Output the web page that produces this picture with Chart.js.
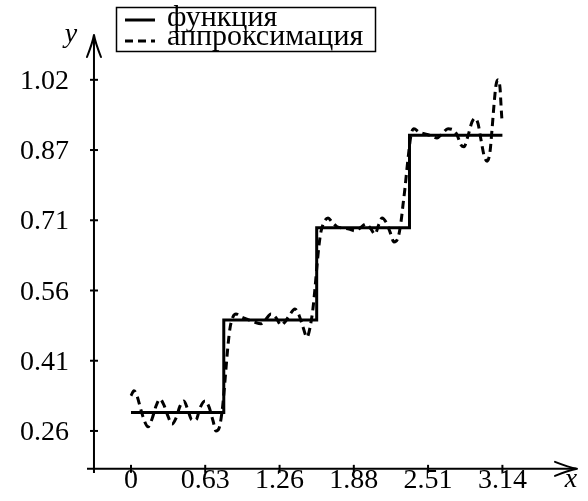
<!DOCTYPE html>
<html><head><meta charset="utf-8">
<script src="https://cdn.jsdelivr.net/npm/chart.js@4/dist/chart.umd.min.js"></script>
<style>html,body{margin:0;padding:0;background:#fff;} canvas{display:block;}</style>
</head><body>
<canvas id="c" width="588" height="501"></canvas>
<script>
// ---- data ----
const funcLabel = 'функция';
const approxLabel = 'аппроксимация';
const funcX = [0, 0.785, 0.785, 1.571, 1.571, 2.356, 2.356, 3.142];
const funcY = [0.3, 0.3, 0.5, 0.5, 0.7, 0.7, 0.9, 0.9];
const approxX = [0, 0.025, 0.051, 0.085, 0.118, 0.144, 0.178, 0.212, 0.245, 0.279, 0.313, 0.347, 0.381, 0.415, 0.448, 0.482, 0.516, 0.550, 0.584, 0.626, 0.660, 0.694, 0.719, 0.745, 0.770, 0.787, 0.804, 0.821, 0.838, 0.863, 0.888, 0.931, 0.981, 1.041, 1.100, 1.142, 1.184, 1.227, 1.269, 1.303, 1.337, 1.387, 1.421, 1.455, 1.489, 1.514, 1.540, 1.557, 1.574, 1.591, 1.607, 1.633, 1.667, 1.701, 1.743, 1.794, 1.844, 1.895, 1.937, 1.988, 2.030, 2.064, 2.098, 2.124, 2.157, 2.191, 2.225, 2.259, 2.284, 2.301, 2.318, 2.335, 2.352, 2.369, 2.394, 2.437, 2.487, 2.538, 2.589, 2.631, 2.682, 2.724, 2.758, 2.792, 2.817, 2.851, 2.885, 2.910, 2.936, 2.961, 2.986, 3.012, 3.037, 3.054, 3.071, 3.088, 3.105, 3.122, 3.130, 3.139];
const approxY = [0.336, 0.347, 0.336, 0.305, 0.279, 0.269, 0.286, 0.314, 0.329, 0.316, 0.292, 0.275, 0.288, 0.314, 0.325, 0.305, 0.284, 0.284, 0.310, 0.325, 0.312, 0.282, 0.260, 0.266, 0.301, 0.344, 0.396, 0.446, 0.483, 0.507, 0.513, 0.507, 0.502, 0.496, 0.492, 0.502, 0.513, 0.505, 0.489, 0.496, 0.509, 0.524, 0.511, 0.485, 0.463, 0.483, 0.526, 0.570, 0.619, 0.663, 0.691, 0.712, 0.721, 0.712, 0.702, 0.699, 0.697, 0.693, 0.699, 0.708, 0.697, 0.686, 0.708, 0.721, 0.712, 0.691, 0.669, 0.678, 0.712, 0.749, 0.786, 0.829, 0.868, 0.901, 0.914, 0.907, 0.903, 0.899, 0.894, 0.903, 0.914, 0.912, 0.901, 0.879, 0.875, 0.899, 0.929, 0.937, 0.925, 0.890, 0.857, 0.844, 0.864, 0.912, 0.966, 1.009, 1.020, 1.002, 0.966, 0.929];
const xTickValues = [0, 0.628, 1.257, 1.885, 2.513, 3.142];
const xTickLabels = ['0', '0.63', '1.26', '1.88', '2.51', '3.14'];
const yTickValues = [0.26, 0.412, 0.564, 0.716, 0.868, 1.02];
const yTickLabels = ['0.26', '0.41', '0.56', '0.71', '0.87', '1.02'];
const xRange = [-0.372, 3.773];
const yRange = [0.169, 1.117];
const xAxisAtY = 0.178;
const yAxisAtX = -0.313;
const xTitle = 'x';
const yTitle = 'y';

const FONT = '"Liberation Serif", "DejaVu Serif", serif';

function drawArrow(ctx, tx, ty, ang) {
  ctx.save();
  ctx.translate(tx, ty);
  ctx.rotate(ang);
  ctx.lineWidth = 2;
  ctx.lineCap = 'round';
  ctx.lineJoin = 'round';
  ctx.beginPath();
  ctx.moveTo(-22, -7);
  ctx.quadraticCurveTo(-8, -1.5, 0, 0);
  ctx.quadraticCurveTo(-8, 1.5, -22, 7);
  ctx.stroke();
  ctx.restore();
}

const texAxes = {
  id: 'texAxes',
  beforeDatasetsDraw(chart) {
    const ctx = chart.ctx;
    const xs = chart.scales.x, ys = chart.scales.y;
    const ax = xs.getPixelForValue(yAxisAtX);
    const ay = ys.getPixelForValue(xAxisAtY);
    const x0 = xs.getPixelForValue(xRange[0]), x1 = xs.getPixelForValue(xRange[1]);
    const y0 = ys.getPixelForValue(yRange[0]), y1 = ys.getPixelForValue(yRange[1]);
    ctx.save();
    ctx.strokeStyle = '#000';
    ctx.fillStyle = '#000';
    ctx.lineWidth = 2;
    ctx.beginPath(); ctx.moveTo(x0, ay); ctx.lineTo(x1 - 1, ay); ctx.stroke();
    ctx.beginPath(); ctx.moveTo(ax, y0); ctx.lineTo(ax, y1 + 1); ctx.stroke();
    drawArrow(ctx, x1, ay, 0);
    drawArrow(ctx, ax, y1, -Math.PI / 2);
    // ticks + labels
    ctx.font = '28px ' + FONT;
    ctx.textAlign = 'center';
    ctx.textBaseline = 'alphabetic';
    xTickValues.forEach((v, i) => {
      const px = xs.getPixelForValue(v);
      ctx.beginPath(); ctx.moveTo(px, ay - 4); ctx.lineTo(px, ay + 4); ctx.stroke();
      ctx.fillText(xTickLabels[i], px, ay + 19);
    });
    ctx.textAlign = 'right';
    yTickValues.forEach((v, i) => {
      const py = ys.getPixelForValue(v);
      ctx.beginPath(); ctx.moveTo(ax - 4, py); ctx.lineTo(ax + 4, py); ctx.stroke();
      ctx.fillText(yTickLabels[i], ax - 25, py + 9);
    });
    ctx.font = 'italic 28px ' + FONT;
    ctx.textAlign = 'center';
    ctx.fillText(xTitle, x1 - 6, ay + 18);
    ctx.fillText(yTitle, ax - 23, y1 + 7);
    ctx.restore();
  },
  afterDatasetsDraw(chart) {
    const ctx = chart.ctx;
    const ds = chart.data.datasets;
    ctx.save();
    ctx.fillStyle = '#fff';
    ctx.fillRect(116, 7, 260, 45);
    ctx.strokeStyle = '#000';
    ctx.lineWidth = 1.5;
    ctx.strokeRect(116.5, 7.5, 259, 44);
    ctx.lineWidth = 3;
    ds.forEach((d, i) => {
      const ly = i === 0 ? 20 : 41;
      ctx.setLineDash(d.borderDash || []);
      ctx.beginPath(); ctx.moveTo(125, ly); ctx.lineTo(155, ly); ctx.stroke();
    });
    ctx.setLineDash([]);
    ctx.fillStyle = '#000';
    ctx.font = '30px ' + FONT;
    ctx.textAlign = 'left';
    ctx.textBaseline = 'alphabetic';
    ctx.fillText(ds[0].label, 167, 26);
    ctx.fillText(ds[1].label, 167, 45);
    ctx.restore();
  }
};

new Chart(document.getElementById('c'), {
  type: 'scatter',
  data: {
    datasets: [
      { label: funcLabel, data: funcX.map((v, i) => ({ x: v, y: funcY[i] })), showLine: true,
        borderColor: '#000', borderWidth: 3, pointRadius: 0, tension: 0 },
      { label: approxLabel, data: approxX.map((v, i) => ({ x: v, y: approxY[i] })), showLine: true,
        borderColor: '#000', borderWidth: 3, borderDash: [8, 5], pointRadius: 0,
        cubicInterpolationMode: 'monotone' }
    ]
  },
  options: {
    responsive: false,
    animation: false,
    devicePixelRatio: 1,
    events: [],
    layout: { padding: { left: 87, right: 11, top: 35, bottom: 28 } },
    scales: {
      x: { type: 'linear', display: false, min: xRange[0], max: xRange[1] },
      y: { type: 'linear', display: false, min: yRange[0], max: yRange[1] }
    },
    plugins: { legend: { display: false }, tooltip: { enabled: false } }
  },
  plugins: [texAxes]
});
</script>
</body></html>
